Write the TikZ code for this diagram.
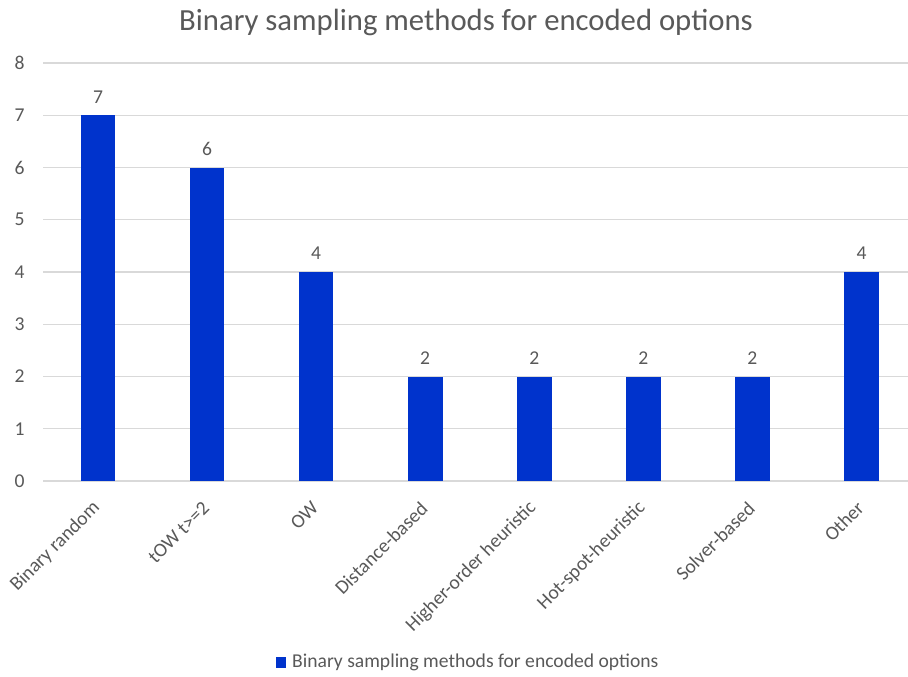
\documentclass[tikz,border=0pt]{standalone}
\usepackage{fontspec}
\setmainfont{Carlito}
\definecolor{barblue}{RGB}{0,51,204}
\definecolor{gridgrey}{RGB}{217,217,217}
\definecolor{textgrey}{RGB}{89,89,89}
\begin{document}
\begin{tikzpicture}[x=1pt,y=-1pt,
  gridline/.style={draw=gridgrey,line width=1.2pt},
  barbox/.style={fill=barblue,draw=none},
  ticklabel/.style={text=textgrey,font=\fontsize{19.6}{22}\selectfont,inner sep=0pt},
  catlabel/.style={ticklabel,rotate=45,anchor=east},
  vallabel/.style={ticklabel,anchor=south}]
\useasboundingbox[fill=white] (0,0) rectangle (908,677);
% title
\node[text=textgrey,font=\fontsize{30.7}{36}\selectfont,inner sep=0pt] (title) at (466,22) {Binary sampling methods for encoded options};
% horizontal grid lines and y tick labels
\foreach \v in {0,...,8}{
  \coordinate (gl\v) at (43,{481-52.25*\v});
  \coordinate (gr\v) at (908,{481-52.25*\v});
  \draw[gridline] (gl\v) -- (gr\v);
  \node[ticklabel] (yl\v) at (19.5,{481-52.25*\v}) {\v};
}
% bars with value labels and category labels
\foreach \i/\val/\name in {0/7/Binary random,1/6/tOW t>=2,2/4/OW,3/2/Distance-based,4/2/Higher-order heuristic,5/2/Hot-spot-heuristic,6/2/Solver-based,7/4/Other}{
  \pgfmathsetmacro{\cx}{98+109.07*\i}
  \pgfmathsetmacro{\top}{481-52.25*\val}
  \path[barbox] (\cx-17.3,481) rectangle (\cx+17.3,\top);
  \node[vallabel] (v\i) at (\cx,\top-12) {\val};
  \node[catlabel] (c\i) at (\cx-1,505) {\name};
}
% legend
\path[barbox] (276,657) rectangle (286,668);
\node[ticklabel,anchor=west] (legend) at (292,662.5) {Binary sampling methods for encoded options};
\end{tikzpicture}
\end{document}
